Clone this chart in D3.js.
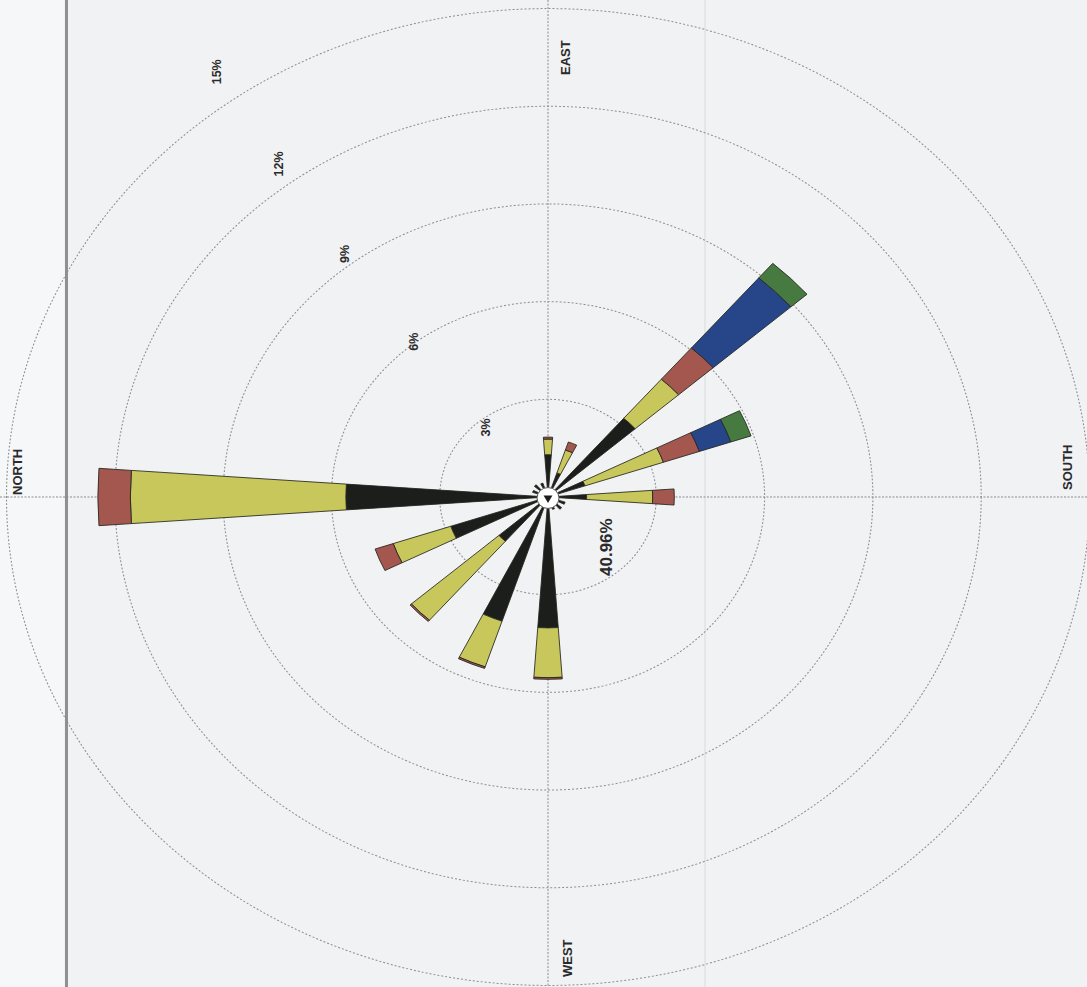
<!DOCTYPE html>
<html>
<head>
<meta charset="utf-8">
<script src="https://cdn.jsdelivr.net/npm/d3@7"></script>
<style>
  html, body { margin: 0; padding: 0; background: #f1f2f4; }
  svg { display: block; }
  text { font-family: "Liberation Sans", Arial, sans-serif; font-weight: bold; fill: #2a2a2a; }
</style>
</head>
<body>
<svg id="chart" width="1087" height="987"></svg>
<script>
// ---------------- data ----------------
const directions = ["N","NNE","NE","ENE","E","ESE","SE","SSE","S","SSW","SW","WSW","W","WNW","NW","NNW"];
const speedBins = ["bin1","bin2","bin3","bin4","bin5"];
// frequency (%) of each speed class per direction
const bin1 = [5.60, 0.45, 0.50, 0.45, 1.30, 0.78, 3.20, 1.08, 1.07, 0.50, 0.50, 0.40, 4.02, 4.02, 1.80, 2.84];
const bin2 = [5.97, 0.00, 0.00, 0.00, 0.48, 0.74, 1.59, 2.29, 1.83, 0.00, 0.00, 0.00, 1.53, 1.48, 3.21, 1.68];
const bin3 = [0.90, 0.00, 0.00, 0.00, 0.06, 0.26, 1.27, 1.05, 0.60, 0.00, 0.00, 0.00, 0.05, 0.05, 0.05, 0.53];
const bin4 = [0.00, 0.00, 0.00, 0.00, 0.00, 0.00, 2.85, 0.92, 0.00, 0.00, 0.00, 0.00, 0.00, 0.00, 0.00, 0.00];
const bin5 = [0.00, 0.00, 0.00, 0.00, 0.00, 0.00, 0.59, 0.59, 0.00, 0.00, 0.00, 0.00, 0.00, 0.00, 0.00, 0.00];
const ringTicks = [3, 6, 9, 12, 15];
const ringLabels = ["3%", "6%", "9%", "12%", "15%"];
const calmLabel = "40.96%";
const compassLabels = ["NORTH", "EAST", "SOUTH", "WEST"];

// ---------------- layout / style ----------------
const W = 1087, H = 987;
const cx = 548, cy = 497;
const pxPerPct = 36.1;       // horizontal radius per percent
const ySquash = 0.902;       // scanned ellipse: vertical / horizontal
const holeR = 11;
const halfWidth = 4.05 * Math.PI / 180;
const rotation = -90;        // North points left
const colors = ["#1c1e1b", "#c8c75b", "#a3574f", "#27468a", "#467a40"];

const svg = d3.select("#chart");

// background artefacts of the scan
svg.append("rect").attr("width", W).attr("height", H).attr("fill", "#f1f2f4");
svg.append("rect").attr("width", 64).attr("height", H).attr("fill", "#f6f7f8");
svg.append("line").attr("x1", 66.5).attr("x2", 66.5).attr("y1", 0).attr("y2", H)
  .attr("stroke", "#8f9093").attr("stroke-width", 3);
svg.append("line").attr("x1", 705).attr("x2", 705).attr("y1", 0).attr("y2", H)
  .attr("stroke", "#d9dadd").attr("stroke-width", 1);

// scales
const r = d3.scaleLinear().domain([0, 15]).range([0, 15 * pxPerPct]);
const angle = d3.scalePoint().domain(directions).range([0, 360 - 360 / directions.length]);
const rad = d => (angle(d) + rotation) * Math.PI / 180;

// axis lines through centre
svg.append("line").attr("x1", cx).attr("x2", cx).attr("y1", 0).attr("y2", H)
  .attr("stroke", "#8a8b8e").attr("stroke-width", 1).attr("stroke-dasharray", "2 1.5");
svg.append("line").attr("x1", 0).attr("x2", W).attr("y1", cy).attr("y2", cy)
  .attr("stroke", "#8a8b8e").attr("stroke-width", 1).attr("stroke-dasharray", "2 1.5");

const g = svg.append("g").attr("transform", `translate(${cx},${cy}) scale(1,${ySquash})`);

// rings
g.selectAll("circle.ring").data(ringTicks).join("circle")
  .attr("class", "ring")
  .attr("r", d => r(d))
  .attr("fill", "none")
  .attr("stroke", "#8c8e93")
  .attr("stroke-width", 1.1)
  .attr("stroke-dasharray", "2 2");

// stacked data
const rows = directions.map((d, i) => ({ dir: d, bin1: bin1[i], bin2: bin2[i], bin3: bin3[i], bin4: bin4[i], bin5: bin5[i] }));
const stack = d3.stack().keys(speedBins)(rows);

const arc = d3.arc()
  .innerRadius(d => Math.max(holeR, r(d[0])))
  .outerRadius(d => Math.max(holeR, r(d[1])))
  .startAngle(d => rad(d.data.dir) - halfWidth)
  .endAngle(d => rad(d.data.dir) + halfWidth);

g.selectAll("g.layer").data(stack).join("g")
  .attr("class", "layer")
  .attr("fill", (d, i) => colors[i])
  .selectAll("path")
  .data(d => d.filter(s => s[1] - s[0] > 0))
  .join("path")
  .attr("d", arc)
  .attr("stroke", "#26261f")
  .attr("stroke-width", 0.9);

// calm circle
svg.append("ellipse").attr("cx", cx).attr("cy", cy + 1)
  .attr("rx", holeR).attr("ry", holeR * 0.95)
  .attr("fill", "#ffffff").attr("stroke", "#555").attr("stroke-width", 1);
svg.append("path")
  .attr("d", d3.symbol(d3.symbolTriangle, 34)())
  .attr("transform", `translate(${cx},${cy + 1}) rotate(180)`)
  .attr("fill", "#1c1c1c");

// ring labels (rotated like the scanned page)
svg.selectAll("text.ringlab").data(ringTicks).join("text")
  .attr("class", "ringlab")
  .attr("transform", (d) => {
    const a = (39 - (d - 3) * 0.33) * Math.PI / 180;
    const rr = r(d * 1.1 - 0.55);
    const x = cx - rr * Math.sin(a);
    const y = cy - rr * ySquash * Math.cos(a);
    return `translate(${x},${y}) rotate(-90)`;
  })
  .attr("text-anchor", "middle")
  .attr("dominant-baseline", "central")
  .attr("font-size", 12.5)
  .text((d, i) => ringLabels[i]);

// compass labels
const compassPos = [
  { x: 22, y: cy - 2 },
  { x: cx + 22, y: 75 },
  { x: 1072, y: cy - 7 },
  { x: cx + 24, y: 977 }
];
svg.selectAll("text.compass").data(compassLabels).join("text")
  .attr("class", "compass")
  .attr("transform", (d, i) => `translate(${compassPos[i].x},${compassPos[i].y}) rotate(-90)`)
  .attr("text-anchor", "start")
  .attr("font-size", 13)
  .text(d => d);

// calm percentage
svg.append("text")
  .attr("transform", `translate(${cx + 64},576) rotate(-90)`)
  .attr("text-anchor", "start")
  .attr("font-size", 17)
  .text(calmLabel);
</script>
</body>
</html>
